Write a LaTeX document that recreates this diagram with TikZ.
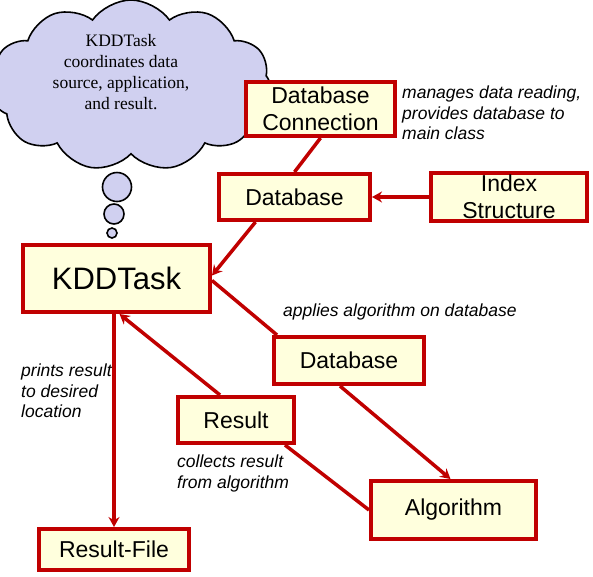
\documentclass[tikz,border=0pt]{standalone}
\usepackage{fontspec}
\setmainfont{Liberation Serif}
\setsansfont{Liberation Sans}
\usetikzlibrary{positioning,arrows.meta,shapes.symbols}
\definecolor{boxred}{RGB}{192,0,0}
\definecolor{boxfill}{RGB}{255,255,221}
\definecolor{cloudfill}{RGB}{208,208,240}

\begin{document}
\begin{tikzpicture}[
  x=1pt, y=1pt,
  every node/.style={font=\sffamily},
  box/.style={draw=boxred, line width=4pt, fill=boxfill, align=center,
              inner sep=2pt, font=\sffamily\fontsize{23}{27}\selectfont},
  note/.style={inner sep=0pt, align=left,
               font=\sffamily\itshape\fontsize{17.5}{20.5}\selectfont},
  bubble/.style={circle, draw, line width=1.6pt, fill=cloudfill, inner sep=0pt},
  arr/.style={draw=boxred, line width=3.5pt, -{Stealth[length=10pt, width=11pt]}},
  lnk/.style={draw=boxred, line width=3.5pt}
]
\useasboundingbox (0,0) rectangle (593,-576);
% thought cloud
\node[cloud, cloud puffs=11, cloud puff arc=110, aspect=1.5, draw,
      line width=1.6pt, fill=cloudfill, minimum width=282, minimum height=171]
      (thought) at (131,-85.5) {};
\node[font=\rmfamily\fontsize{17.5}{20.8}\selectfont, align=center]
      (thoughttxt) at (121,-72) {KDDTask\\coordinates data\\source, application,\\and result.};
\node[bubble, minimum size=29] (bub1) at (117,-187) {};
\node[bubble, minimum size=20] (bub2) at (114,-214) {};
\node[bubble, minimum size=10] (bub3) at (112,-233) {};
% boxes
\node[box, minimum width=187, minimum height=67,
      font=\sffamily\fontsize{31}{35}\selectfont] (kdd) at (116.5,-278.5) {KDDTask};
\node[box, minimum width=151, minimum height=46,
      above right=21pt and 5pt of kdd.north east, anchor=south west] (db1) {Database};
\node[box, minimum width=149, minimum height=54,
      above right=34pt and 27pt of db1.north west, anchor=south west] (dbc) {Database\\Connection};
\node[box, minimum width=156, minimum height=48, right=57pt of db1] (index) {Index\\Structure};
\node[box, minimum width=150, minimum height=47,
      below right=21pt and 60pt of kdd.south east, anchor=north west] (db2) {Database};
\node[box, minimum width=116, minimum height=46,
      below right=81pt and 155pt of kdd.south west, anchor=north west] (res) {Result};
\node[box, minimum width=165, minimum height=58,
      below right=93pt and 97pt of db2.south west, anchor=north west] (algo) {Algorithm};
\node[box, minimum width=150, minimum height=41,
      below right=213pt and 16pt of kdd.south west, anchor=north west] (rf) {Result-File};
% notes
\node[note, right=5pt of dbc.east, anchor=west, yshift=-4pt] (notedbc)
  {manages data reading,\\provides database to\\main class};
\node[note, above right=15pt and 11pt of db2.north west, anchor=south west] (notedb2)
  {applies algorithm on database};
\node[note, below right=50pt and 0pt of kdd.south west, anchor=north west] (notekdd)
  {prints result\\to desired\\location};
\node[note, below right=10pt and 1pt of res.south west, anchor=north west] (noteres)
  {collects result\\from algorithm};
% connectors
\draw[lnk] (dbc.south) -- (db1.north);
\draw[arr] (index.west) -- (db1.east);
\draw[arr] ([xshift=-39pt]db1.south) -- ([yshift=3pt]kdd.east);
\draw[lnk] ([yshift=-2pt]kdd.east) -- ([xshift=5pt]db2.north west);
\draw[arr] ([xshift=-9pt]db2.south) -- ([xshift=-3pt]algo.north);
\draw[lnk] (algo.west) -- ([xshift=-11pt]res.south east);
\draw[arr] ([xshift=-16pt]res.north) -- ([xshift=3pt]kdd.south);
\draw[arr] (rf.north |- kdd.south) -- (rf.north);
\end{tikzpicture}
\end{document}
